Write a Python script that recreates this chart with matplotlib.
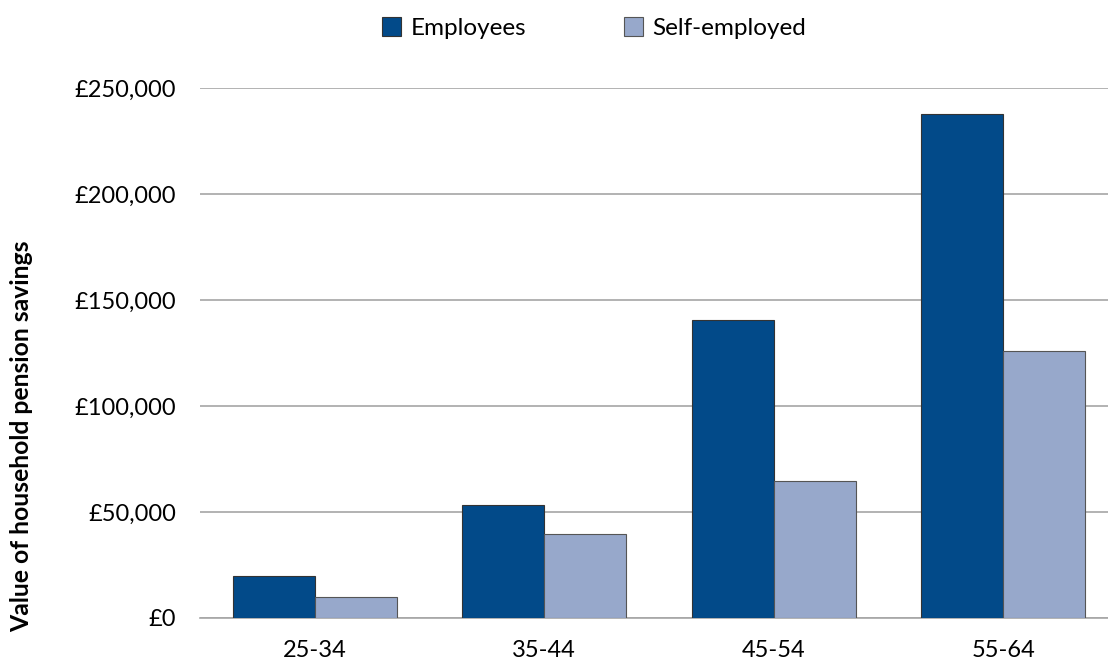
import matplotlib.pyplot as plt
import numpy as np

# values
age_groups = ["25-34", "35-44", "45-54", "55-64"]
employees = [20000, 53500, 140800, 237700]
self_employed = [10000, 39800, 64800, 126100]
yticks = [0, 50000, 100000, 150000, 200000, 250000]

plt.rcParams['font.family'] = ['Lato', 'DejaVu Sans']

fig = plt.figure(figsize=(11.08, 6.59), dpi=100)
ax = fig.add_axes([200 / 1108, (659 - 618) / 659, 908 / 1108, 530 / 659])

x = np.arange(len(age_groups))
w = 0.357
ax.bar(x - w / 2, employees, w, color="#024A89", edgecolor="#333333",
       linewidth=0.8, label="Employees", zorder=3)
ax.bar(x + w / 2, self_employed, w, color="#97A8CB", edgecolor="#555555",
       linewidth=0.8, label="Self-employed", zorder=3)

ax.set_ylim(0, 250000)
ax.set_xlim(-0.5, 3.5 - 10 / 229.5)
ax.set_yticks(yticks)
ax.set_yticklabels([f"£{v:,}" for v in yticks], fontsize=17)
ax.set_xticks(x)
ax.set_xticklabels(age_groups, fontsize=17)
ax.tick_params(axis="y", length=0, pad=17)
ax.tick_params(axis="x", length=0, pad=16)
ax.yaxis.grid(True, color="#A6A6A6", linewidth=1.2, zorder=0)
for s in ["top", "right", "left"]:
    ax.spines[s].set_visible(False)
ax.spines["bottom"].set_color("#A6A6A6")
ax.spines["bottom"].set_linewidth(1.2)

fig.text(22 / 1108, (659 - 436) / 659, "Value of household pension savings",
         rotation=90, fontsize=17.8, fontweight="bold", ha="center", va="center")

fig.legend(loc="center", bbox_to_anchor=(594 / 1108, 1 - 28 / 659), ncol=2,
           frameon=False, fontsize=17.5, handlelength=0.8, handleheight=0.8,
           columnspacing=4.0, handletextpad=0.4)

fig.savefig("out.png", dpi=100)
